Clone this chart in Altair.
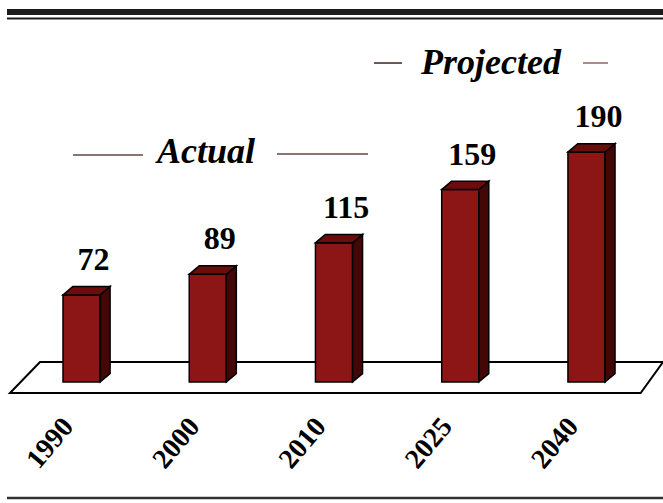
import altair as alt
import pandas as pd

# ---- data ----
years = ["1990", "2000", "2010", "2025", "2040"]
values = [72, 89, 115, 159, 190]

# ---- style / layout constants ----
HW = 0.147      # half width of front face (slot units)
DDX = 0.079     # 3D depth in x (slot units)
DDY = 7.0       # 3D depth in y (value units)
FRONT = "#8c1616"
TOP = "#6a0d0d"
SIDE = "#430707"
W, H = 663, 503

xs = alt.Scale(domain=[-0.646, 4.606], nice=False, zero=False)
ys = alt.Scale(domain=[-100, 315.7], nice=False, zero=False)

idx = list(range(len(years)))

front = pd.DataFrame({
    "year": years, "v": values,
    "xl": [i - HW for i in idx], "xr": [i + HW for i in idx],
    "zero": [0] * len(years), "xc": idx,
})

side_rows, top_rows = [], []
for i, (yr, v) in enumerate(zip(years, values)):
    side_rows.append({"year": yr, "x": i + HW, "lo": 0, "hi": v})
    side_rows.append({"year": yr, "x": i + HW + DDX, "lo": DDY, "hi": v + DDY})
    top_rows.append({"year": yr, "y": v, "a": i - HW, "b": i + HW})
    top_rows.append({"year": yr, "y": v + DDY, "a": i - HW + DDX, "b": i + HW + DDX})
side = pd.DataFrame(side_rows)
top = pd.DataFrame(top_rows)

floor = pd.DataFrame({
    "y": [-9.1, 16.5],
    "a": [-0.567, -0.329],
    "b": [4.429, 4.606],
})

X = lambda f: alt.X(f, type="quantitative", scale=xs, axis=None)
Y = lambda f: alt.Y(f, type="quantitative", scale=ys, axis=None)

floor_l = alt.Chart(floor).mark_area(
    orient="horizontal", fill="white", stroke="black", strokeWidth=2
).encode(y=Y("y"), x=X("a"), x2=alt.X2("b"))

front_l = alt.Chart(front).mark_rect(
    fill=FRONT, stroke="black", strokeWidth=1.5
).encode(x=X("xl"), x2=alt.X2("xr"), y=Y("zero"), y2=alt.Y2("v"))

side_l = alt.Chart(side).mark_area(
    fill=SIDE, stroke="black", strokeWidth=1.5, strokeJoin="miter"
).encode(x=X("x"), y=Y("lo"), y2=alt.Y2("hi"), detail="year:N")

top_l = alt.Chart(top).mark_area(
    orient="horizontal", fill=TOP, stroke="black", strokeWidth=1.5, strokeJoin="miter"
).encode(y=Y("y"), x=X("a"), x2=alt.X2("b"), detail="year:N")

val_l = alt.Chart(front).mark_text(
    font="Liberation Serif", fontWeight="bold", fontSize=32,
    baseline="alphabetic", align="center", dx=12, dy=-25, color="black"
).encode(x=X("xc"), y=Y("v"), text=alt.Text("v:Q"))

# dx/dy are applied in the rotated text frame
year_l = alt.Chart(front).mark_text(
    font="Liberation Serif", fontWeight="bold", fontSize=28,
    baseline="middle", align="center", angle=310, dx=-67, dy=16, color="black"
).encode(x=X("xc"), y=Y("zero"), text="year:N")

# ---- decorations: rules and annotation titles ----
def rule(x1, x2, y, w, color="#1a1a1a"):
    return alt.Chart(pd.DataFrame({"d": [0]})).mark_rule(
        color=color, strokeWidth=w
    ).encode(x=alt.value(x1), x2=alt.value(x2), y=alt.value(y))

def label(txt, x, y):
    return alt.Chart(pd.DataFrame({"d": [0]})).mark_text(
        text=txt, font="Liberation Serif", fontWeight="bold", fontStyle="italic",
        fontSize=36, align="center", baseline="alphabetic", color="black"
    ).encode(x=alt.value(x), y=alt.value(y))

deco = [
    rule(7, W, 12, 6),
    rule(7, W, 18.5, 2),
    rule(7, W, 498, 2.5, "#333333"),
    rule(73, 143, 155, 2, "#8a7470"),
    rule(277, 368, 154, 2, "#8a7470"),
    rule(374, 402, 63, 2, "#6a5a56"),
    rule(583, 608, 63, 2, "#b08a86"),
    label("Actual", 206, 163),
    label("Projected", 491, 74),
]

chart = alt.layer(
    floor_l, front_l, side_l, top_l, val_l, year_l, *deco
).properties(
    width=W, height=H, padding=0, autosize=alt.AutoSizeParams(type="none"),
    background="white"
).configure_view(stroke=None)

chart.save("out.html", embed_options={"renderer": "svg", "actions": False})
